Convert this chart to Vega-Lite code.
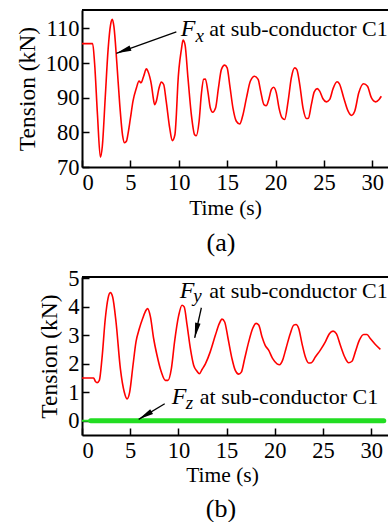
{
  "$schema": "https://vega.github.io/schema/vega-lite/v6.json",
  "padding": {"left": 15, "top": 9, "right": 0, "bottom": 0},
  "spacing": 11,
  "config": {
    "font": "Liberation Serif",
    "view": {"stroke": null},
    "axis": {
      "grid": false, "domainColor": "black", "domainWidth": 2, "tickColor": "black", "tickWidth": 1.5, "tickSize": -7,
      "labelFont": "Liberation Serif", "labelFontSize": 22.5, "labelColor": "black", "labelPadding": 10,
      "titleFont": "Liberation Serif", "titleFontSize": 23.5, "titleFontWeight": "normal", "titleColor": "black", "titlePadding": 6
    },
    "axisX": {"titleFontSize": 21.5},
    "title": {"font": "Liberation Serif", "fontSize": 26, "fontWeight": "normal", "color": "black", "orient": "bottom"}
  },
  "datasets": {
    "fx": [
      {"t":0,"v":105.6},{"t":1.1,"v":105.6},{"t":1.3,"v":100},{"t":1.6,"v":85},{"t":1.9,"v":72.8},{"t":2.1,"v":76},{"t":2.4,"v":90},{"t":2.7,"v":104},{"t":2.95,"v":111},{"t":3.13,"v":112.6},{"t":3.3,"v":110.5},{"t":3.6,"v":100},{"t":3.9,"v":88},{"t":4.2,"v":79},{"t":4.4,"v":77},{"t":4.6,"v":77.5},{"t":4.75,"v":79.5},{"t":5.0,"v":84},{"t":5.27,"v":89},{"t":5.6,"v":92.6},{"t":5.9,"v":94.8},{"t":6.1,"v":94.3},{"t":6.37,"v":96.2},{"t":6.65,"v":98.3},{"t":6.8,"v":97.7},{"t":7.0,"v":96},{"t":7.17,"v":93.8},{"t":7.34,"v":90.4},{"t":7.5,"v":88},{"t":7.68,"v":89},{"t":7.96,"v":92.8},{"t":8.2,"v":94.5},{"t":8.44,"v":93.8},{"t":8.7,"v":89},{"t":9.06,"v":81.3},{"t":9.33,"v":77.6},{"t":9.6,"v":79.3},{"t":9.75,"v":85},{"t":9.9,"v":93.8},{"t":10.27,"v":103.9},{"t":10.44,"v":106.6},{"t":10.64,"v":105.4},{"t":10.95,"v":95.7},{"t":11.3,"v":85.1},{"t":11.64,"v":79.3},{"t":11.8,"v":79},{"t":12.1,"v":83.2},{"t":12.33,"v":90.9},{"t":12.57,"v":95.3},{"t":12.75,"v":95.4},{"t":13.0,"v":91.9},{"t":13.26,"v":87},{"t":13.5,"v":85.8},{"t":13.8,"v":87},{"t":14.1,"v":92.8},{"t":14.4,"v":98.1},{"t":14.74,"v":99.4},{"t":15.0,"v":98.6},{"t":15.26,"v":93.8},{"t":15.6,"v":87},{"t":15.95,"v":83.2},{"t":16.3,"v":82.4},{"t":16.6,"v":84.7},{"t":17.0,"v":90},{"t":17.4,"v":94.8},{"t":17.84,"v":96.2},{"t":18.2,"v":95.3},{"t":18.46,"v":91.9},{"t":18.8,"v":88},{"t":19.05,"v":87.7},{"t":19.3,"v":89.5},{"t":19.57,"v":92.4},{"t":19.8,"v":93},{"t":20.08,"v":91.4},{"t":20.36,"v":87},{"t":20.67,"v":84.2},{"t":20.94,"v":83.7},{"t":21.3,"v":89},{"t":21.63,"v":95.7},{"t":21.98,"v":98.6},{"t":22.2,"v":98.1},{"t":22.5,"v":93.8},{"t":22.84,"v":87},{"t":23.2,"v":84},{"t":23.4,"v":84.1},{"t":23.7,"v":88},{"t":24.0,"v":91.7},{"t":24.3,"v":92.6},{"t":24.56,"v":91.9},{"t":24.9,"v":89.7},{"t":25.25,"v":88.8},{"t":25.6,"v":89.5},{"t":25.94,"v":92.6},{"t":26.35,"v":94.6},{"t":26.6,"v":94},{"t":27.04,"v":90},{"t":27.5,"v":86.1},{"t":27.83,"v":84.9},{"t":28.18,"v":86.1},{"t":28.6,"v":91.4},{"t":29.1,"v":94},{"t":29.5,"v":93.3},{"t":29.9,"v":90},{"t":30.35,"v":88.8},{"t":30.7,"v":89.5},{"t":30.93,"v":90.4}
    ],
    "fy": [
      {"t":0,"v":1.5},{"t":1.2,"v":1.5},{"t":1.4,"v":1.38},{"t":1.56,"v":1.34},{"t":1.8,"v":1.42},{"t":2.07,"v":2.18},{"t":2.42,"v":3.6},{"t":2.7,"v":4.3},{"t":2.94,"v":4.5},{"t":3.18,"v":4.35},{"t":3.53,"v":3.47},{"t":3.98,"v":1.83},{"t":4.39,"v":1.0},{"t":4.67,"v":0.77},{"t":4.94,"v":1.0},{"t":5.29,"v":1.95},{"t":5.6,"v":2.77},{"t":5.95,"v":3.24},{"t":6.3,"v":3.6},{"t":6.64,"v":3.88},{"t":6.8,"v":3.94},{"t":7.1,"v":3.65},{"t":7.43,"v":2.89},{"t":7.78,"v":2.3},{"t":8.23,"v":1.71},{"t":8.64,"v":1.42},{"t":8.92,"v":1.42},{"t":9.27,"v":1.83},{"t":9.6,"v":2.77},{"t":10.03,"v":3.7},{"t":10.37,"v":4.06},{"t":10.6,"v":4.0},{"t":10.9,"v":3.36},{"t":11.24,"v":2.54},{"t":11.58,"v":1.95},{"t":11.93,"v":1.74},{"t":12.17,"v":1.65},{"t":12.45,"v":1.8},{"t":12.8,"v":2.0},{"t":13.3,"v":2.42},{"t":13.83,"v":3.0},{"t":14.25,"v":3.42},{"t":14.52,"v":3.57},{"t":14.8,"v":3.47},{"t":15.15,"v":2.89},{"t":15.56,"v":2.18},{"t":15.9,"v":1.77},{"t":16.25,"v":1.64},{"t":16.53,"v":1.71},{"t":16.87,"v":2.18},{"t":17.29,"v":2.77},{"t":17.7,"v":3.24},{"t":18.05,"v":3.42},{"t":18.33,"v":3.36},{"t":18.67,"v":2.95},{"t":19.0,"v":2.65},{"t":19.36,"v":2.48},{"t":19.78,"v":2.18},{"t":20.23,"v":2.0},{"t":20.5,"v":1.97},{"t":20.8,"v":2.12},{"t":21.16,"v":2.54},{"t":21.6,"v":3.06},{"t":21.96,"v":3.36},{"t":22.2,"v":3.38},{"t":22.48,"v":3.24},{"t":22.82,"v":2.71},{"t":23.17,"v":2.24},{"t":23.5,"v":2.03},{"t":23.8,"v":2.04},{"t":24.2,"v":2.24},{"t":24.72,"v":2.48},{"t":25.24,"v":2.77},{"t":25.66,"v":3.06},{"t":26.04,"v":3.15},{"t":26.38,"v":3.06},{"t":26.8,"v":2.65},{"t":27.25,"v":2.24},{"t":27.66,"v":2.04},{"t":28.0,"v":2.09},{"t":28.35,"v":2.42},{"t":28.77,"v":2.83},{"t":29.22,"v":3.03},{"t":29.56,"v":3.03},{"t":29.9,"v":2.89},{"t":30.43,"v":2.68},{"t":30.95,"v":2.51}
    ],
    "fzThin": [{"t":0,"v":0},{"t":0.9,"v":0}],
    "fzThick": [{"t":0.9,"v":0},{"t":31.3,"v":0}],
    "topBorderA": [{"v":115.3}],
    "topBorderB": [{"v":5.05}],
    "arrowA": [{"t1":9.75,"v1":109.0,"t2":3.55,"v2":102.8}],
    "arrowFy": [{"t1":12.38,"v1":3.97,"t2":11.69,"v2":2.91}],
    "arrowFz": [{"t1":8.58,"v1":0.6,"t2":5.88,"v2":0.05}],
    "labelA": [{"kind":"F","t":10.2,"v":107.8,"txt":"F"},{"kind":"sub","t":11.73,"v":106.2,"txt":"x"},{"kind":"rest","t":13.15,"v":107.8,"txt":"at sub-conductor C1"}],
    "labelB": [
      {"kind":"F","t":10.15,"v":4.3,"txt":"F"},{"kind":"sub","t":11.55,"v":4.16,"txt":"y"},{"kind":"rest","t":13.2,"v":4.3,"txt":"at sub-conductor C1"},
      {"kind":"F","t":9.3,"v":0.6,"txt":"F"},{"kind":"sub","t":10.76,"v":0.42,"txt":"z"},{"kind":"rest","t":12.22,"v":0.6,"txt":"at sub-conductor C1"}
    ]
  },
  "vconcat": [
    {
      "width": 306, "height": 157,
      "title": {"text": "(a)", "offset": 11, "dx": -14, "font": "Liberation Serif"},
      "encoding": {
        "x": {"type": "quantitative", "scale": {"domain": [0, 31.62], "nice": false},
              "axis": {"values": [0,5,10,15,20,25,30], "title": "Time (s)", "titleX": 143, "labelFont": "Liberation Serif", "titleFont": "Liberation Serif", "labelPadding": 11, "titlePadding": 4}},
        "y": {"type": "quantitative", "scale": {"domain": [70, 115.3], "nice": false, "zero": false},
              "axis": {"values": [70,80,90,100,110], "title": "Tension (kN)", "labelFont": "Liberation Serif", "titleFont": "Liberation Serif"}}
      },
      "layer": [
        {"data": {"name": "fx"}, "mark": {"type": "line", "color": "#ff0000", "strokeWidth": 1.6, "interpolate": "monotone", "clip": true},
         "encoding": {"x": {"field": "t"}, "y": {"field": "v"}}},
        {"data": {"name": "topBorderA"}, "mark": {"type": "rule", "color": "black", "strokeWidth": 2}, "encoding": {"y": {"field": "v"}}},
        {"data": {"name": "arrowA"}, "mark": {"type": "rule", "color": "black", "strokeWidth": 1.3},
         "encoding": {"x": {"field": "t1"}, "y": {"field": "v1"}, "x2": {"field": "t2"}, "y2": {"field": "v2"}}},
        {"data": {"name": "arrowA"}, "mark": {"type": "point", "shape": "M0,0L0.33,1.8L-0.33,1.8Z", "filled": true, "color": "black", "opacity": 1, "size": 280, "angle": 250},
         "encoding": {"x": {"field": "t2"}, "y": {"field": "v2"}}},
        {"data": {"name": "labelA"}, "transform": [{"filter": "datum.kind === 'F'"}], "mark": {"type": "text", "align": "left", "baseline": "alphabetic", "fontSize": 24, "fontStyle": "italic", "color": "black"},
         "encoding": {"x": {"field": "t"}, "y": {"field": "v"}, "text": {"field": "txt"}}},
        {"data": {"name": "labelA"}, "transform": [{"filter": "datum.kind === 'sub'"}], "mark": {"type": "text", "align": "left", "baseline": "alphabetic", "fontSize": 19, "fontStyle": "italic", "color": "black"},
         "encoding": {"x": {"field": "t"}, "y": {"field": "v"}, "text": {"field": "txt"}}},
        {"data": {"name": "labelA"}, "transform": [{"filter": "datum.kind === 'rest'"}], "mark": {"type": "text", "align": "left", "baseline": "alphabetic", "fontSize": 22, "color": "black"},
         "encoding": {"x": {"field": "t"}, "y": {"field": "v"}, "text": {"field": "txt"}}}
      ]
    },
    {
      "width": 306, "height": 158,
      "title": {"text": "(b)", "offset": 10, "dx": -14, "font": "Liberation Serif"},
      "encoding": {
        "x": {"type": "quantitative", "scale": {"domain": [0, 31.74], "nice": false},
              "axis": {"values": [0,5,10,15,20,25,30], "title": "Time (s)", "titleX": 140, "labelFont": "Liberation Serif", "titleFont": "Liberation Serif", "labelPadding": 11, "titlePadding": 3}},
        "y": {"type": "quantitative", "scale": {"domain": [-0.5, 5.05], "nice": false, "zero": false},
              "axis": {"values": [0,1,2,3,4,5], "title": "Tension (kN)", "labelFont": "Liberation Serif", "titleFont": "Liberation Serif"}}
      },
      "layer": [
        {"data": {"name": "fy"}, "mark": {"type": "line", "color": "#ff0000", "strokeWidth": 1.6, "interpolate": "monotone", "clip": true},
         "encoding": {"x": {"field": "t"}, "y": {"field": "v"}}},
        {"data": {"name": "fzThin"}, "mark": {"type": "line", "color": "#22dd22", "strokeWidth": 2},
         "encoding": {"x": {"field": "t"}, "y": {"field": "v"}}},
        {"data": {"name": "fzThick"}, "mark": {"type": "line", "color": "#22dd22", "strokeWidth": 5, "strokeCap": "round"},
         "encoding": {"x": {"field": "t"}, "y": {"field": "v"}}},
        {"data": {"name": "topBorderB"}, "mark": {"type": "rule", "color": "black", "strokeWidth": 2}, "encoding": {"y": {"field": "v"}}},
        {"data": {"name": "arrowFy"}, "mark": {"type": "rule", "color": "black", "strokeWidth": 1.3},
         "encoding": {"x": {"field": "t1"}, "y": {"field": "v1"}, "x2": {"field": "t2"}, "y2": {"field": "v2"}}},
        {"data": {"name": "arrowFy"}, "mark": {"type": "point", "shape": "M0,0L0.33,1.8L-0.33,1.8Z", "filled": true, "color": "black", "opacity": 1, "size": 280, "angle": 192},
         "encoding": {"x": {"field": "t2"}, "y": {"field": "v2"}}},
        {"data": {"name": "arrowFz"}, "mark": {"type": "rule", "color": "black", "strokeWidth": 1.3},
         "encoding": {"x": {"field": "t1"}, "y": {"field": "v1"}, "x2": {"field": "t2"}, "y2": {"field": "v2"}}},
        {"data": {"name": "arrowFz"}, "mark": {"type": "point", "shape": "M0,0L0.33,1.8L-0.33,1.8Z", "filled": true, "color": "black", "opacity": 1, "size": 280, "angle": 239},
         "encoding": {"x": {"field": "t2"}, "y": {"field": "v2"}}},
        {"data": {"name": "labelB"}, "transform": [{"filter": "datum.kind === 'F'"}], "mark": {"type": "text", "align": "left", "baseline": "alphabetic", "fontSize": 24, "fontStyle": "italic", "color": "black"},
         "encoding": {"x": {"field": "t"}, "y": {"field": "v"}, "text": {"field": "txt"}}},
        {"data": {"name": "labelB"}, "transform": [{"filter": "datum.kind === 'sub'"}], "mark": {"type": "text", "align": "left", "baseline": "alphabetic", "fontSize": 19, "fontStyle": "italic", "color": "black"},
         "encoding": {"x": {"field": "t"}, "y": {"field": "v"}, "text": {"field": "txt"}}},
        {"data": {"name": "labelB"}, "transform": [{"filter": "datum.kind === 'rest'"}], "mark": {"type": "text", "align": "left", "baseline": "alphabetic", "fontSize": 22, "color": "black"},
         "encoding": {"x": {"field": "t"}, "y": {"field": "v"}, "text": {"field": "txt"}}}
      ]
    }
  ]
}
